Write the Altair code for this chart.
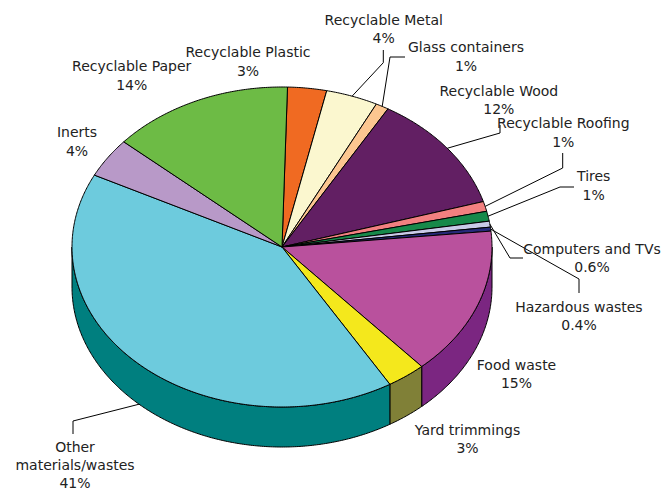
import numpy as np
import pandas as pd
import altair as alt

# ---------------- data ----------------
categories = ["Recyclable Plastic", "Recyclable Metal", "Glass containers", "Recyclable Wood",
              "Recyclable Roofing", "Tires", "Computers and TVs", "Hazardous wastes",
              "Food waste", "Yard trimmings", "Other materials/wastes", "Inerts", "Recyclable Paper"]
values = [3, 4, 1, 12, 1, 1, 0.6, 0.4, 15, 3, 41, 4, 14]
pct_labels = ["3%", "4%", "1%", "12%", "1%", "1%", "0.6%", "0.4%", "15%", "3%", "41%", "4%", "14%"]
label_names = ["Recyclable Plastic", "Recyclable Metal", "Glass containers", "Recyclable Wood",
               "Recyclable Roofing", "Tires", "Computers and TVs", "Hazardous wastes",
               "Food waste", "Yard trimmings", "Other\nmaterials/wastes", "Inerts", "Recyclable Paper"]

# ---------------- styles ----------------
top_colors = ["#F06A22", "#FBF7CF", "#FCC690", "#621F63", "#F28080", "#17894A", "#C9CAE8",
              "#262A7A", "#B9519D", "#F4E81C", "#6DCBDD", "#B899C8", "#6DBB45"]
side_colors = ["#A04510", "#A8A478", "#B0804F", "#3E0E40", "#A04848", "#0C5530", "#8485A8",
               "#141850", "#7B2681", "#808037", "#007F7F", "#7A5F88", "#427A27"]

# ---------------- layout ----------------
W, H = 665, 491
CX, CY, RX, RY, DEPTH = 282, 247, 210, 160, 40
START_DEG = 1.5
FONT = "DejaVu Sans"
FS = 14
LH = 18.3
# first-line centre of each label block
label_pos = [(248, 53.3), (383.7, 20.7), (466, 48.3), (498.8, 91.7), (563.3, 124.3),
             (593.7, 177.3), (592, 250), (579, 307.7), (516.5, 366), (467.5, 430.7),
             (75, 447.5), (77, 133.3), (131.7, 67.3)]
# leader lines: slice index -> (end near label, elbow)
leaders = {1: ((383.3, 50), (383.3, 62.7)),
           2: ((405, 57), (390, 57)),
           3: ((500, 125), (500, 133)),
           4: ((562.7, 153), (562.7, 168)),
           5: ((574, 187), (560, 187)),
           6: ((523, 258), (510, 258)),
           7: ((579, 293), (579, 279)),
           10: ((73, 434), (73, 421))}

total = float(sum(values))
bounds = np.concatenate([[0], np.cumsum(values)]) / total * 360.0 + START_DEG


def ell(tdeg):
    t = np.radians(tdeg)
    return CX + RX * np.sin(t), CY - RY * np.cos(t)


top_rows, side_rows = [], []
for i, name in enumerate(categories):
    t0, t1 = bounds[i], bounds[i + 1]
    n = max(2, int(np.ceil((t1 - t0) / 0.5)) + 1)
    ts = np.linspace(t0, t1, n)
    px, py = ell(ts)
    top_rows.append(dict(slice=name, ord=-1, x=CX, y=CY, color=top_colors[i]))
    for k in range(n):
        top_rows.append(dict(slice=name, ord=k, x=px[k], y=py[k], color=top_colors[i]))
    s0, s1 = max(t0, 90.0), min(t1, 270.0)
    if s1 > s0:
        m = max(2, int(np.ceil((s1 - s0) / 0.5)) + 1)
        ss = np.linspace(s0, s1, m)
        sx, sy = ell(ss)
        # polygon: upper rim forward, lower rim backward
        for k in range(m):
            side_rows.append(dict(slice=name, ord=k, x=sx[k], y=sy[k], color=side_colors[i]))
        for k in range(m):
            j = m - 1 - k
            side_rows.append(dict(slice=name, ord=m + k, x=sx[j], y=sy[j] + DEPTH,
                                  color=side_colors[i]))

top_df = pd.DataFrame(top_rows)
side_df = pd.DataFrame(side_rows)

lab_rows, lead_rows = [], []
for i, name in enumerate(categories):
    txt = label_names[i] + "\n" + pct_labels[i]
    lx, ly = label_pos[i]
    lab_rows.append(dict(slice=name, text=txt, x=lx, y=ly))
    if i in leaders:
        mid = (bounds[i] + bounds[i + 1]) / 2
        rx, ry = ell(mid)
        if 90 < mid < 270:
            ry = ry + DEPTH
        (ex, ey), (bx, by) = leaders[i]
        for k, (qx, qy) in enumerate([(rx, ry), (bx, by), (ex, ey)]):
            lead_rows.append(dict(slice=name, ord=k, x=qx, y=qy))

lab_df = pd.DataFrame(lab_rows)
lead_df = pd.DataFrame(lead_rows)

xs = alt.Scale(domain=[0, W], nice=False, zero=False)
ys = alt.Scale(domain=[0, H], nice=False, zero=False, reverse=True)


def polygons(df):
    return alt.Chart(df).mark_line(stroke="black", strokeWidth=1, interpolate="linear-closed",
                                   strokeJoin="round").encode(
        x=alt.X("x:Q", scale=xs, axis=None),
        y=alt.Y("y:Q", scale=ys, axis=None),
        fill=alt.Fill("color:N", scale=None),
        detail="slice:N",
        order="ord:Q",
    )


sides = polygons(side_df)
tops = polygons(top_df)

lines = alt.Chart(lead_df).mark_line(stroke="black", strokeWidth=1).encode(
    x=alt.X("x:Q", scale=xs, axis=None),
    y=alt.Y("y:Q", scale=ys, axis=None),
    detail="slice:N",
    order="ord:Q",
)

labels = alt.Chart(lab_df).mark_text(font=FONT, fontSize=FS, lineBreak="\n", lineHeight=LH,
                                     align="center", baseline="middle", color="#222222").encode(
    x=alt.X("x:Q", scale=xs, axis=None),
    y=alt.Y("y:Q", scale=ys, axis=None),
    text="text:N",
)

chart = alt.layer(sides, tops, lines, labels).properties(
    width=W, height=H, padding=0, autosize=alt.AutoSizeParams(type="none"),
    background="white",
).configure_view(stroke=None)

chart.save("out.html", embed_options={"renderer": "svg", "actions": False})
